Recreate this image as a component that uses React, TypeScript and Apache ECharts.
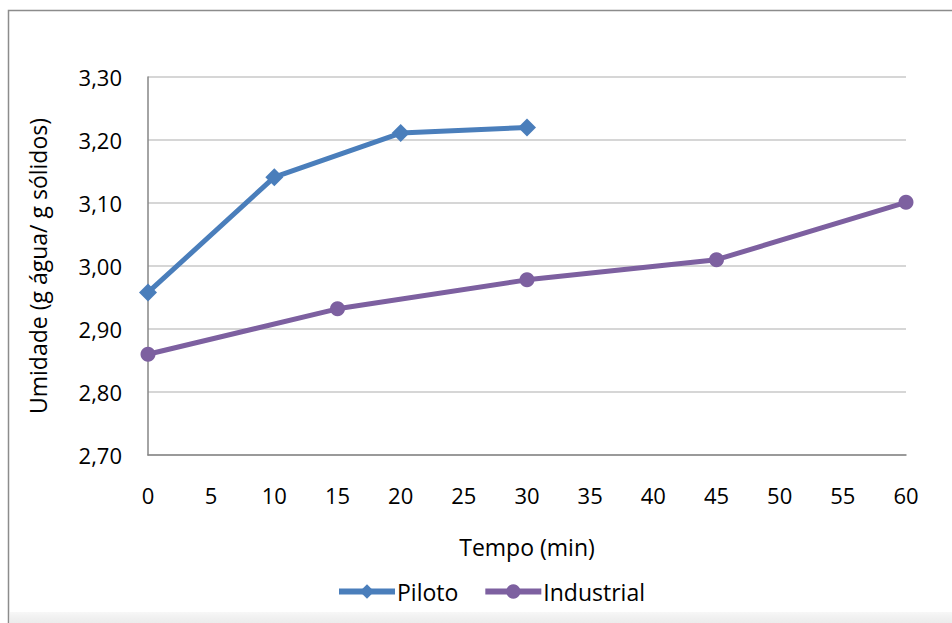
import React, { useEffect, useRef } from "react";
import * as echarts from "echarts";

const pilotoX = [0, 10, 20, 30];
const pilotoY = [2.958, 3.141, 3.211, 3.22];
const industrialX = [0, 15, 30, 45, 60];
const industrialY = [2.86, 2.932, 2.978, 3.01, 3.101];
const seriesNames = ["Piloto", "Industrial"];
const xAxisTitle = "Tempo (min)";
const yAxisTitle = "Umidade (g água/ g sólidos)";

const FONT = "'Open Sans', sans-serif";
const FS = 22;
const FT = 23;

export default function App() {
  const ref = useRef<HTMLDivElement>(null);
  useEffect(() => {
    if (!ref.current) return;
    const chart = echarts.init(ref.current, null, { renderer: "svg" });
    chart.setOption({
      animation: false,
      backgroundColor: "#ffffff",
      textStyle: { fontFamily: FONT, color: "#000" },
      graphic: [
        {
          type: "rect",
          shape: { x: 8.5, y: 10.5, width: 1000, height: 700 },
          style: { fill: "none", stroke: "#8c8c8c", lineWidth: 1.5 },
          silent: true,
        },
        {
          type: "rect",
          shape: { x: 10, y: 612, width: 1000, height: 12 },
          style: {
            fill: new echarts.graphic.LinearGradient(0, 0, 0, 1, [
              { offset: 0, color: "rgba(230,230,230,0.3)" },
              { offset: 1, color: "rgba(235,235,235,1)" },
            ]),
          },
          silent: true,
        },
      ],
      grid: { left: 148, right: 46, top: 77, bottom: 168, containLabel: false },
      legend: {
        data: seriesNames,
        left: 331,
        top: 575,
        itemWidth: 56,
        itemHeight: 18,
        itemGap: 24,
        lineStyle: { width: 6 },
        textStyle: { fontFamily: FONT, fontSize: FT, color: "#000", padding: [0, 0, 0, -3] },
      },
      xAxis: {
        type: "value",
        min: 0,
        max: 60,
        interval: 5,
        name: xAxisTitle,
        nameLocation: "middle",
        nameGap: 80,
        nameTextStyle: { fontFamily: FONT, fontSize: FT, color: "#000" },
        axisLine: { show: true, lineStyle: { color: "#868686", width: 1.5 } },
        axisTick: { show: false },
        splitLine: { show: false },
        axisLabel: { fontFamily: FONT, fontSize: FS, color: "#000", margin: 29 },
      },
      yAxis: {
        type: "value",
        min: 2.7,
        max: 3.3,
        interval: 0.1,
        name: yAxisTitle,
        nameLocation: "middle",
        nameGap: 99,
        nameTextStyle: { fontFamily: FONT, fontSize: FT, color: "#000" },
        axisLine: { show: true, lineStyle: { color: "#868686", width: 1.5 } },
        axisTick: { show: false },
        splitLine: { show: true, lineStyle: { color: "#c8c8c8", width: 1.5 } },
        axisLabel: {
          fontFamily: FONT,
          fontSize: FS,
          color: "#000",
          margin: 26,
          formatter: (v: number) => v.toFixed(2).replace(".", ","),
        },
      },
      series: [
        {
          name: seriesNames[0],
          type: "line",
          data: pilotoX.map((x, i) => [x, pilotoY[i]]),
          symbol: "diamond",
          symbolSize: 18,
          lineStyle: { color: "#4a7ebb", width: 5 },
          itemStyle: { color: "#4a7ebb" },
        },
        {
          name: seriesNames[1],
          type: "line",
          data: industrialX.map((x, i) => [x, industrialY[i]]),
          symbol: "circle",
          symbolSize: 15,
          lineStyle: { color: "#7d60a0", width: 5 },
          itemStyle: { color: "#7d60a0" },
        },
      ],
    });
    return () => chart.dispose();
  }, []);
  return (
    <div
      ref={ref}
      style={{ position: "fixed", left: 0, top: 0, width: 952, height: 623 }}
    />
  );
}
